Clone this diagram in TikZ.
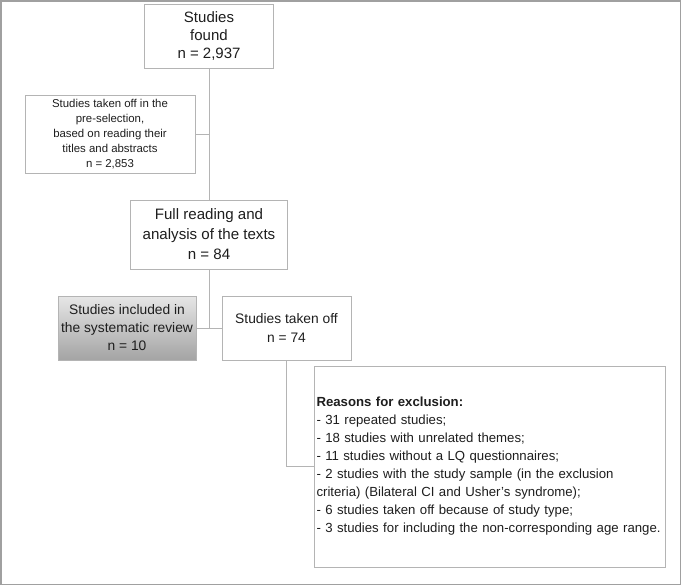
\documentclass[tikz,border=0pt]{standalone}
\usepackage{fontspec}
\setmainfont{Liberation Sans}
\definecolor{linegray}{HTML}{B4B4B4}
\definecolor{framegray}{HTML}{A0A0A0}
\definecolor{txt}{HTML}{1E1E1E}
\definecolor{shadetop}{HTML}{E6E6E6}
\definecolor{shadebot}{HTML}{A4A4A4}
\begin{document}
\begin{tikzpicture}[x=1pt,y=-1pt,
  box/.style={draw=linegray, line width=0.8pt, fill=white, text=txt, align=center, inner sep=0pt, anchor=center},
  conn/.style={draw=linegray, line width=0.8pt}]
\useasboundingbox (0,0) rectangle (682,586);
\draw[framegray, line width=1.6pt] (1,1) rectangle (680.5,584.5);

\node[box, minimum width=129pt, minimum height=64pt, font=\fontsize{15}{18}\selectfont] (b1) at (209,36) {Studies\\found\\n = 2,937};
\node[box, minimum width=170pt, minimum height=78pt, font=\fontsize{11.4}{15}\selectfont] (b2) at (110,134) {Studies taken off in the\\pre-selection,\\based on reading their\\titles and abstracts\\n = 2,853};
\node[box, minimum width=157pt, minimum height=69pt, font=\fontsize{15.1}{20}\selectfont] (b3) at (209,234.5) {Full reading and\\analysis of the texts\\n = 84};
\node[box, minimum width=138pt, minimum height=64pt, top color=shadetop, bottom color=shadebot, font=\fontsize{13.8}{18}\selectfont] (b4) at (127,328) {Studies included in\\the systematic review\\n = 10};
\node[box, minimum width=129pt, minimum height=64pt, font=\fontsize{13.8}{19}\selectfont] (b5) at (286.5,328) {Studies taken off\\n = 74};
\node[box, minimum width=351pt, minimum height=201pt, text width=346pt, align=left, font=\fontsize{13.2}{18}\selectfont] (b6) at (489.5,466.5) {\textbf{Reasons for exclusion:}\\- 31 repeated studies;\\- 18 studies with unrelated themes;\\- 11 studies without a LQ questionnaires;\\- 2 studies with the study sample (in the exclusion\\criteria) (Bilateral CI and Usher’s syndrome);\\- 6 studies taken off because of study type;\\- 3 studies for including the non-corresponding age range.};

\draw[conn] (b1.south) -- (b3.north);
\draw[conn] (b2.east) -- (b2.east -| b1.south);
\draw[conn] (b3.south) -- (b3.south |- b4.east);
\draw[conn] (b4.east) -- (b5.west);
\draw[conn] (b5.south) |- (b6.west);
\end{tikzpicture}
\end{document}
